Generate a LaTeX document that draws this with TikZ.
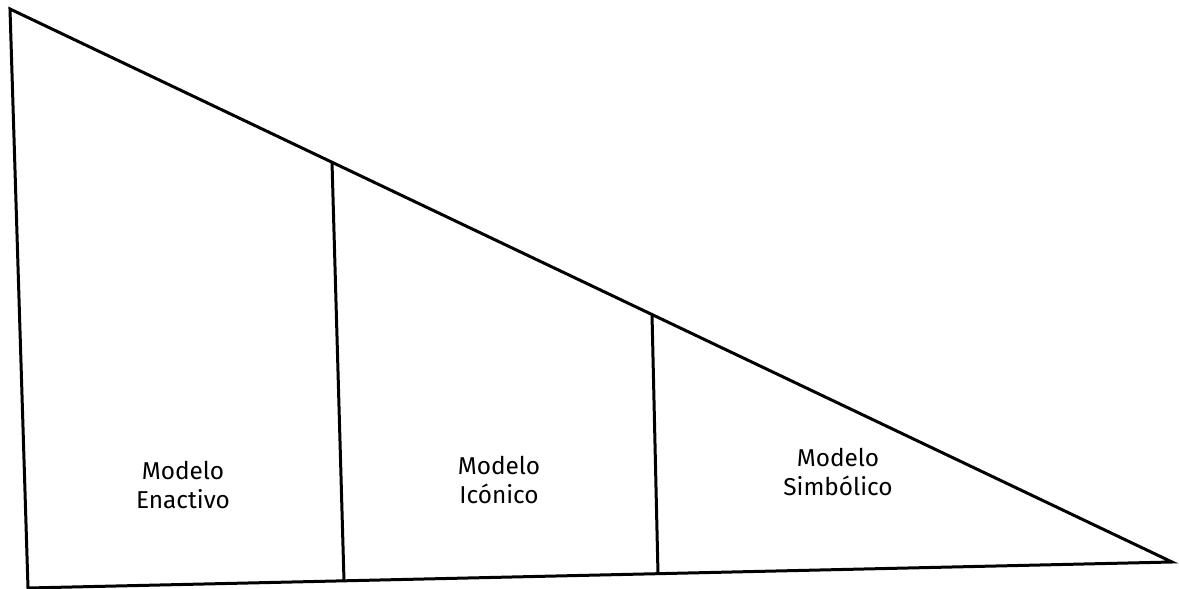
\documentclass[tikz,border=0pt]{standalone}
\usepackage{fontspec}
\setmainfont{Fira Sans}
\begin{document}
\begin{tikzpicture}[x=1bp,y=-1bp,
  edge/.style={line width=3bp,line join=miter,black},
  label/.style={align=center,inner sep=0pt,font=\fontsize{24.5}{29}\selectfont,anchor=north}]
\useasboundingbox (0,0) rectangle (1179,589);
\coordinate (A) at (10,9);
\coordinate (B) at (28,588);
\coordinate (C) at (1172,562);
\coordinate (D1t) at (332,162);
\coordinate (D1b) at (344,581);
\coordinate (D2t) at (652,314);
\coordinate (D2b) at (658,574);
\draw[edge] (A) -- (B) -- (C) -- cycle;
\draw[edge] (D1t) -- (D1b);
\draw[edge] (D2t) -- (D2b);
\node[label] (enactivo) at (183,461) {Modelo\\Enactivo};
\node[label] (iconico) at (499,456) {Modelo\\Icónico};
\node[label] (simbolico) at (838,448) {Modelo\\Simbólico};
\end{tikzpicture}
\end{document}
